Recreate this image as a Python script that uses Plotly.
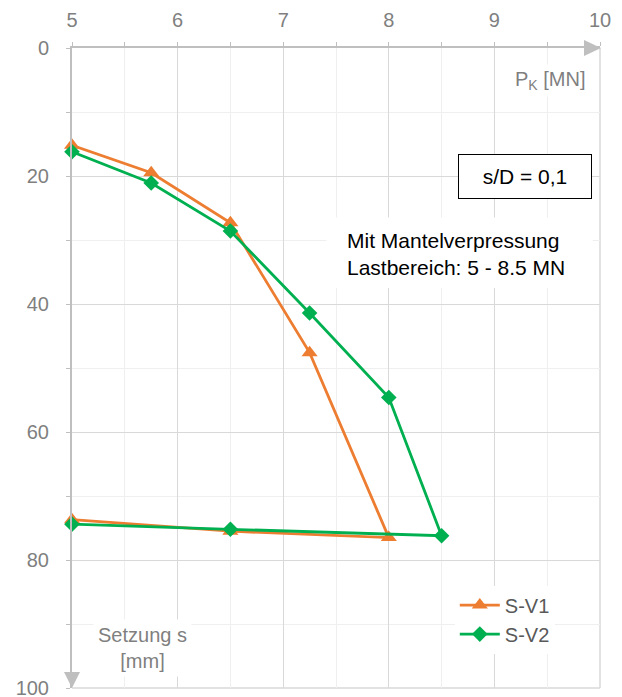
import plotly.graph_objects as go

# Data
load_v1 = [5, 5.75, 6.5, 7.25, 8, 6.5, 5]
sett_v1 = [15.2, 19.5, 27.3, 47.6, 76.5, 75.5, 73.7]
load_v2 = [5, 5.75, 6.5, 7.25, 8, 8.5, 6.5, 5]
sett_v2 = [16.2, 21.1, 28.6, 41.4, 54.6, 76.2, 75.2, 74.4]

x_ticks = [5, 6, 7, 8, 9, 10]
y_ticks = [0, 20, 40, 60, 80, 100]

ORANGE = "#ED7D31"
GREEN = "#00B050"
GRAY_TXT = "#7f7f7f"
AXIS_C = "#bfbfbf"
FONT = "Liberation Sans, Arial, sans-serif"

fig = go.Figure()
fig.add_trace(go.Scatter(x=load_v1, y=sett_v1, name="S-V1", mode="lines+markers",
                         line=dict(color=ORANGE, width=2.8), cliponaxis=False,
                         marker=dict(symbol="triangle-up", size=14, color=ORANGE)))
fig.add_trace(go.Scatter(x=load_v2, y=sett_v2, name="S-V2", mode="lines+markers",
                         line=dict(color=GREEN, width=2.8), cliponaxis=False,
                         marker=dict(symbol="diamond", size=12, color=GREEN)))

fig.update_layout(
    width=622, height=697,
    margin=dict(l=72, r=22, t=48, b=9, autoexpand=False),
    paper_bgcolor="white", plot_bgcolor="white",
    font=dict(family=FONT, size=20, color=GRAY_TXT),
    showlegend=True,
    legend=dict(x=0.725, y=0.16, xanchor="left", yanchor="top",
                bgcolor="white", font=dict(size=20, color="#595959"),
                tracegroupgap=0, itemwidth=40),
    xaxis=dict(range=[5, 10], side="top", tickvals=x_ticks, automargin=False,
               showgrid=True, gridcolor="#d9d9d9", gridwidth=1,
               showline=True, linecolor=AXIS_C, linewidth=2,
               ticks="outside", ticklen=4, tickcolor=AXIS_C,
               ticklabelstandoff=7, ticklabeloverflow="allow",
               minor=dict(dtick=0.5, showgrid=True, gridcolor="#efefef",
                          ticks="outside", ticklen=4, tickcolor=AXIS_C),
               zeroline=False, tickfont=dict(size=20, color=GRAY_TXT)),
    yaxis=dict(range=[100, 0], tickvals=y_ticks, automargin=False,
               showgrid=True, gridcolor="#d9d9d9", gridwidth=1,
               showline=True, linecolor=AXIS_C, linewidth=2,
               ticks="outside", ticklen=4, tickcolor=AXIS_C,
               ticklabelstandoff=13, ticklabeloverflow="allow",
               minor=dict(dtick=10, showgrid=True, gridcolor="#efefef",
                          ticks="outside", ticklen=4, tickcolor=AXIS_C),
               zeroline=False, tickfont=dict(size=20, color=GRAY_TXT)),
)

# border lines at right and bottom (light)
fig.add_shape(type="line", xref="paper", yref="paper", x0=1, x1=1, y0=0, y1=1,
              line=dict(color="#d9d9d9", width=1.5), layer="below")
fig.add_shape(type="line", xref="paper", yref="paper", x0=0, x1=1, y0=0, y1=0,
              line=dict(color="#d9d9d9", width=1.5), layer="below")

# axis arrowheads
fig.add_shape(type="path", xref="paper", yref="paper", xsizemode="pixel", ysizemode="pixel",
              xanchor=1, yanchor=1, path="M -16,8 L 1,0 L -16,-8 Z",
              fillcolor=AXIS_C, line=dict(width=0))
fig.add_shape(type="path", xref="paper", yref="paper", xsizemode="pixel", ysizemode="pixel",
              xanchor=0, yanchor=0, path="M -8,16 L 0,0 L 8,16 Z",
              fillcolor=AXIS_C, line=dict(width=0))

# white background behind the description text
fig.add_shape(type="rect", xref="x", yref="y", x0=7.41, x1=9.93, y0=26.5, y1=37.5,
              fillcolor="white", line=dict(width=0), layer="above")

fig.add_annotation(x=9.9, y=5, xref="x", yref="y", xanchor="right", yanchor="middle",
                   text="P<sub>K</sub> [MN]", showarrow=False, bgcolor="white",
                   borderpad=3, font=dict(size=20, color=GRAY_TXT))
fig.add_annotation(x=5.67, y=93.7, xref="x", yref="y", xanchor="center", yanchor="middle",
                   text="Setzung s<br>[mm]", showarrow=False, bgcolor="white",
                   borderpad=4, font=dict(size=20, color=GRAY_TXT))
fig.add_annotation(x=9.29, y=20.1, xref="x", yref="y", xanchor="center", yanchor="middle",
                   text="s/D = 0,1", showarrow=False, bgcolor="white",
                   bordercolor="black", borderwidth=1, borderpad=0,
                   width=132, height=43,
                   font=dict(size=21, color="black"))
fig.add_annotation(x=7.59, y=32.2, xref="x", yref="y", xanchor="left", yanchor="middle",
                   text="Mit Mantelverpressung<br>Lastbereich: 5 - 8.5 MN",
                   showarrow=False, align="left", borderpad=0,
                   font=dict(size=21, color="black"))

fig.write_html("out.html")
